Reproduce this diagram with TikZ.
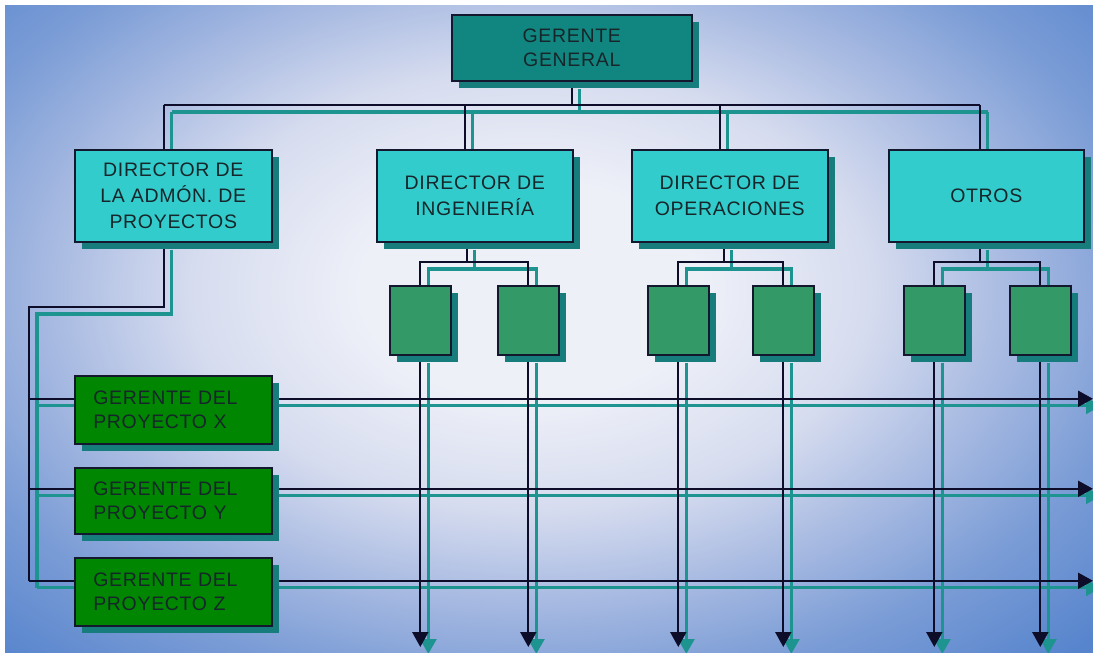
\documentclass[tikz,border=0pt]{standalone}
\usepackage{fontspec}
\setmainfont{Liberation Sans}[LetterSpace=3.5]
\usetikzlibrary{shadows,arrows.meta}
\definecolor{bgin}{HTML}{EEF0F8}
\definecolor{bgA}{HTML}{D6DCEF}
\definecolor{bgB}{HTML}{A9BBE2}
\definecolor{bgC}{HTML}{7C9DD6}
\definecolor{bgD}{HTML}{5684CD}
\definecolor{bgout}{HTML}{4A7CCA}
\definecolor{ggfill}{HTML}{118680}
\definecolor{dirfill}{HTML}{33CCCC}
\definecolor{subfill}{HTML}{339966}
\definecolor{pmfill}{HTML}{008600}
\definecolor{shd}{HTML}{167C7C}
\definecolor{edgecol}{HTML}{13182E}
\definecolor{txt}{HTML}{16262A}
\definecolor{lnk}{HTML}{0D0D2A}
\definecolor{tln}{HTML}{1E9490}
\pgfdeclareradialshading{bgshade}{\pgfpoint{0bp}{0bp}}{color(0bp)=(bgin); color(5bp)=(bgin); color(10bp)=(bgA); color(14bp)=(bgB); color(18bp)=(bgC); color(23bp)=(bgD); color(30bp)=(bgout); color(75bp)=(bgout)}
\pgfdeclarelayer{bglayer}
\pgfdeclarelayer{linelayer}
\pgfsetlayers{bglayer,linelayer,main}
\tikzset{
  box/.style={draw=edgecol, line width=1.6pt, text=txt, inner sep=2pt,
    font=\fontsize{19.5}{24.5}\selectfont, align=center, anchor=north west,
    drop shadow={shadow xshift=7.5pt, shadow yshift=-7.5pt, fill=shd, draw=none, opacity=1}},
  ggbox/.style={box, fill=ggfill, minimum width=240pt, minimum height=66pt},
  dirbox/.style={box, fill=dirfill, minimum width=197pt, minimum height=92pt, font=\fontsize{19.5}{26}\selectfont},
  subbox/.style={box, fill=subfill, minimum width=61pt, minimum height=69pt},
  pmbox/.style={box, fill=pmfill, minimum width=197pt, minimum height=68pt, align=left, text width=160pt},
  link/.style={draw=lnk, line width=2pt},
  tlink/.style={draw=tln, line width=3.3pt},
  tip/.style={-{Triangle[width=16pt,length=15pt]}},
}
\newcommand\orgnet[1]{%
  \draw[#1] (gg.south) -- (gg.south |- busline);
  \draw[#1] (t1 |- busline) -- (t4 |- busline);
  \foreach \i in {1,...,4}{\draw[#1] (t\i |- busline) -- (t\i);}
  \draw[#1] (u2) -- (u2 |- suby);
  \draw[#1] (s1.north) |- (u2 |- suby) -| (s2.north);
  \draw[#1] (u3) -- (u3 |- suby);
  \draw[#1] (s3.north) |- (u3 |- suby) -| (s4.north);
  \draw[#1] (u4) -- (u4 |- suby);
  \draw[#1] (s5.north) |- (u4 |- suby) -| (s6.north);
  \foreach \i in {1,...,6}{\draw[#1,tip] (s\i.south) -- (s\i.south |- boty);}
  \draw[#1] (u1) |- (lbend) -- (lbend |- lpz);
  \foreach \p in {px,py,pz}{\draw[#1,tip] (lbend |- l\p) -- (edge |- l\p);}
}
\begin{document}
\begin{tikzpicture}[x=1pt,y=-1pt]
\useasboundingbox (0,0) rectangle (1093,653);
% nodes
\node[ggbox] (gg) at (451,14) {GERENTE\\GENERAL};
\node[dirbox] (d1) at (74,149) {DIRECTOR DE\\LA ADMÓN. DE\\PROYECTOS};
\node[dirbox, minimum width=196pt] (d2) at (376,149) {DIRECTOR DE\\INGENIERÍA};
\node[dirbox, minimum width=196pt] (d3) at (631,149) {DIRECTOR DE\\OPERACIONES};
\node[dirbox, minimum width=195pt] (d4) at (888,149) {OTROS};
\node[subbox] (s1) at (389,285) {};
\node[subbox] (s2) at (497,285) {};
\node[subbox] (s3) at (647,285) {};
\node[subbox] (s4) at (752,285) {};
\node[subbox] (s5) at (903,285) {};
\node[subbox] (s6) at (1009,285) {};
\node[pmbox] (px) at (74,375) {GERENTE DEL\\PROYECTO X};
\node[pmbox, minimum height=66pt] (py) at (74,467) {GERENTE DEL\\PROYECTO Y};
\node[pmbox] (pz) at (74,557) {GERENTE DEL\\PROYECTO Z};
% helper coordinates
\coordinate (busline) at (0,105);
\coordinate (suby) at (0,262);
\coordinate (boty) at (0,647);
\coordinate (edge) at (1093,0);
\coordinate (lbend) at (29,307);
\coordinate (t1) at ([xshift=-9.5pt]d1.north);
\coordinate (t2) at ([xshift=-10pt]d2.north);
\coordinate (t3) at ([xshift=-10pt]d3.north);
\coordinate (t4) at ([xshift=-6.5pt]d4.north);
\coordinate (u1) at ([xshift=-9.5pt]d1.south);
\coordinate (u2) at ([xshift=-8pt]d2.south);
\coordinate (u3) at ([xshift=-6pt]d3.south);
\coordinate (u4) at ([xshift=-6.5pt]d4.south);
\coordinate (lpx) at ([yshift=11pt]px.center);
\coordinate (lpy) at ([yshift=12pt]py.center);
\coordinate (lpz) at ([yshift=11pt]pz.center);
\begin{pgfonlayer}{bglayer}
  \fill[white] (0,0) rectangle (1093,653);
  \begin{scope}
    \clip (5,5) rectangle (1093,653);
    \shade[shading=bgshade] (-320,-260) rectangle (1380,840);
  \end{scope}
\end{pgfonlayer}
\begin{pgfonlayer}{linelayer}
  \clip (5,5) rectangle (1093,653);
  \begin{scope}[transform canvas={shift={(8,7)}}]
    \orgnet{tlink}
  \end{scope}
  \orgnet{link}
\end{pgfonlayer}
\end{tikzpicture}
\end{document}
